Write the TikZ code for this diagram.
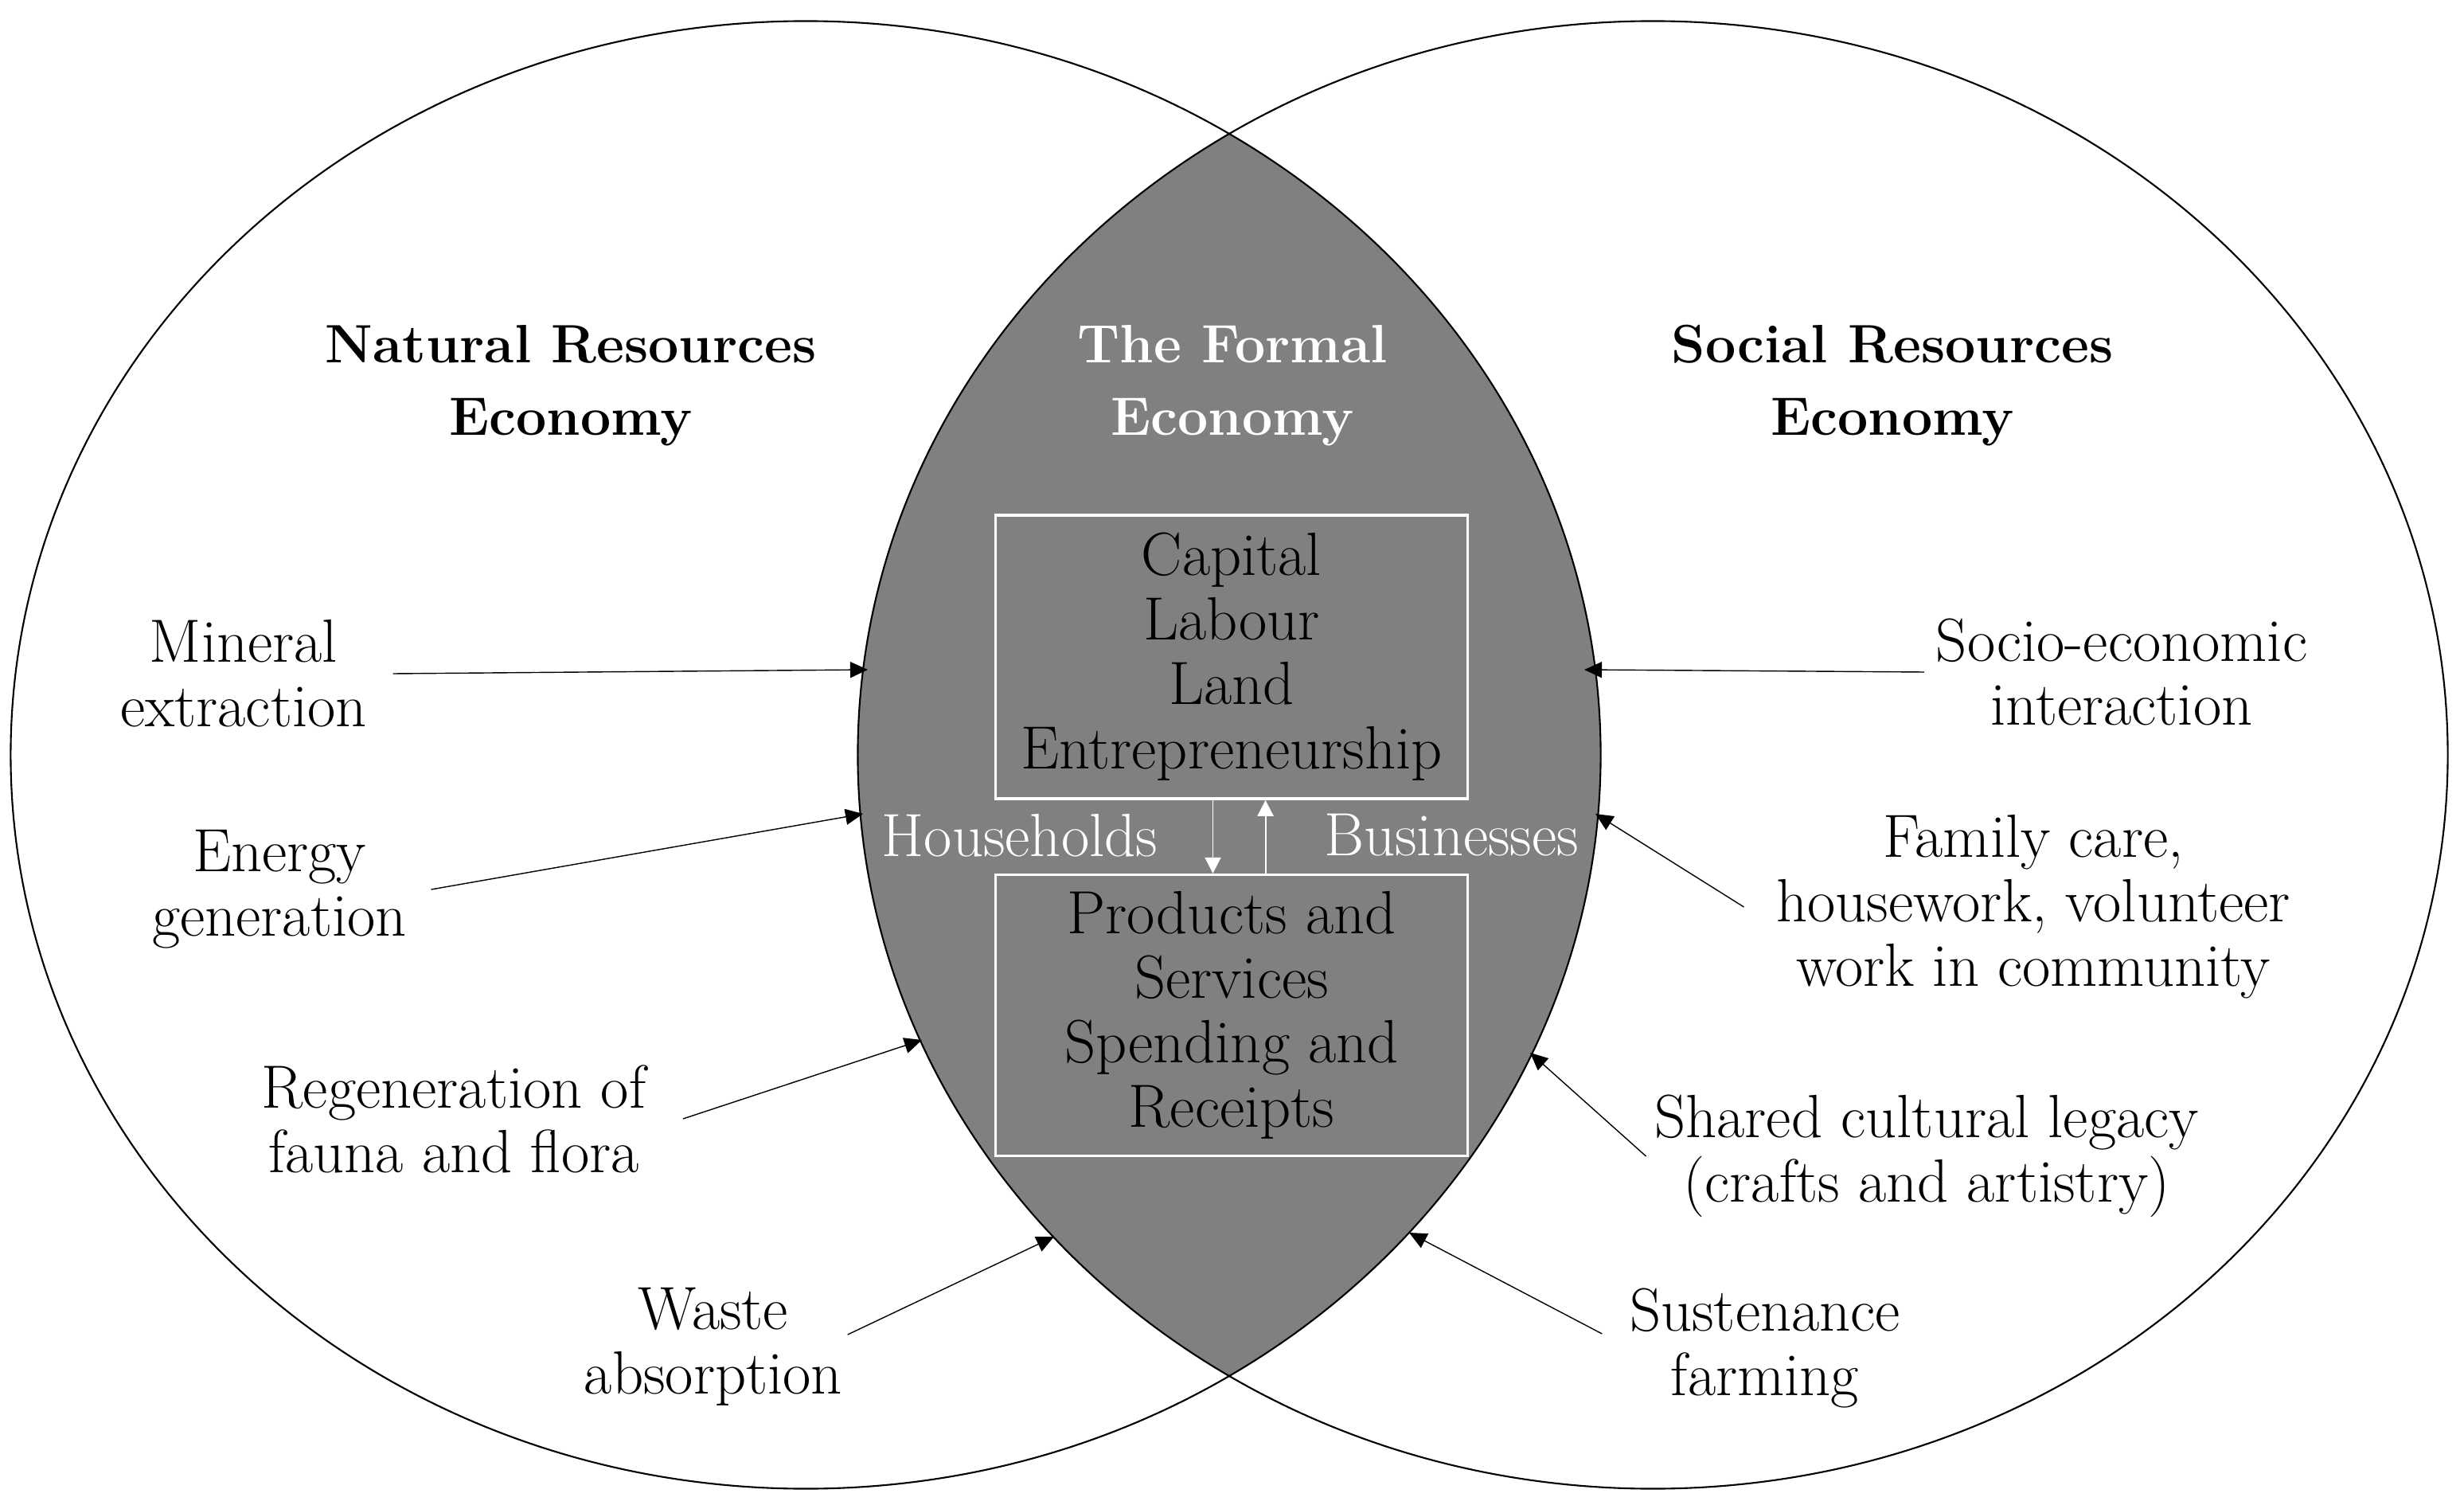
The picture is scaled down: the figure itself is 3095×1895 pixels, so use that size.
\documentclass[tikz,border=0pt]{standalone}
\usepackage{tikz}
\usetikzlibrary{arrows.meta,positioning}
\definecolor{lensgray}{RGB}{128,128,128}
\newcommand{\bodysize}{\fontsize{21.8}{23}\selectfont}
\newcommand{\headsize}{\fontsize{19.3}{26}\selectfont\bfseries}

\begin{document}
\begin{tikzpicture}[
    x=0.01cm, y=-0.01cm,
    ring/.style={draw=black, line width=0.6pt},
    label/.style={align=center, inner sep=0.22cm, font=\bodysize},
    heading/.style={align=center, inner sep=0pt, font=\headsize},
    factorbox/.style={draw=white, line width=0.95pt, fill=lensgray, align=center,
                minimum width=5.93cm, font=\bodysize, inner sep=0pt},
    flowlabel/.style={inner sep=0pt, font=\bodysize, text=white},
    arr/.style={-{Triangle[length=2.2mm, width=2mm]}, line width=0.4pt, black},
    warr/.style={-{Triangle[length=2mm, width=2mm]}, line width=0.55pt, white}
]
\useasboundingbox (0,0) rectangle (3095,1895);

% the two economies
\coordinate (nrc) at (1012,948);
\coordinate (src) at (2076,948);
\begin{scope}
  \clip (nrc) ellipse [x radius=9.98cm, y radius=9.21cm];
  \fill[lensgray] (src) ellipse [x radius=9.98cm, y radius=9.21cm];
\end{scope}
\draw[ring] (nrc) ellipse [x radius=9.98cm, y radius=9.21cm];
\draw[ring] (src) ellipse [x radius=9.98cm, y radius=9.21cm];

% headings
\node[heading] (natural) at (717,484) {Natural Resources\\Economy};
\node[heading, text=white] (formal) at (1548,484) {The Formal\\Economy};
\node[heading] (social) at (2377,484) {Social Resources\\Economy};

% formal economy
\node[factorbox, minimum height=3.56cm] (factors) at (1547,825)
    {Capital\\Labour\\Land\\Entrepreneurship};
\node[factorbox, minimum height=3.53cm, below=0.92cm of factors] (flows)
    {Products and\\Services\\Spending and\\Receipts};
\draw[warr] ([xshift=-0.235cm]factors.south) -- ([xshift=-0.235cm]flows.north);
\draw[warr] ([xshift=0.425cm]flows.north) -- ([xshift=0.425cm]factors.south);
\node[flowlabel] (households) at (1281,1049) {Households};
\node[flowlabel] (businesses) at (1823,1049) {Businesses};

% natural resources side
\node[label] (mineral) at (306,846) {Mineral\\extraction};
\node[label] (energy) at (351,1117) {Energy\\generation};
\node[label] (regen) at (570,1405) {Regeneration of\\fauna and flora};
\node[label] (waste) at (896,1691) {Waste\\absorption};
\coordinate (mineralTip) at (1090,841);
\coordinate (energyTip) at (1084,1022);
\coordinate (regenTip) at (1158,1306);
\coordinate (wasteTip) at (1324,1553);
\draw[arr] ([xshift=0.1cm]mineral.east) -- (mineralTip);
\draw[arr] ([xshift=0.08cm]energy.east) -- (energyTip);
\draw[arr] ([xshift=0.24cm]regen.east) -- (regenTip);
\draw[arr] ([xshift=-0.16cm, yshift=0.15cm]waste.east) -- (wasteTip);

% social resources side
\node[label] (socio) at (2665,844) {Socio-economic\\interaction};
\node[label] (family) at (2554,1139) {Family care,\\housework, volunteer\\work in community};
\node[label] (culture) at (2420,1452) {Shared cultural legacy\\(crafts and artistry)};
\node[label] (farming) at (2217,1693) {Sustenance\\farming};
\coordinate (socioTip) at (1990,841);
\coordinate (familyTip) at (2004,1022);
\coordinate (cultureTip) at (1922,1322);
\coordinate (farmingTip) at (1770,1548);
\draw[arr] ([xshift=0.08cm]socio.west) -- (socioTip);
\draw[arr] ([xshift=-0.18cm]family.west) -- (familyTip);
\draw[arr] ([xshift=0.12cm]culture.west) -- (cultureTip);
\draw[arr] ([xshift=-0.12cm, yshift=0.18cm]farming.west) -- (farmingTip);
\end{tikzpicture}
\end{document}
